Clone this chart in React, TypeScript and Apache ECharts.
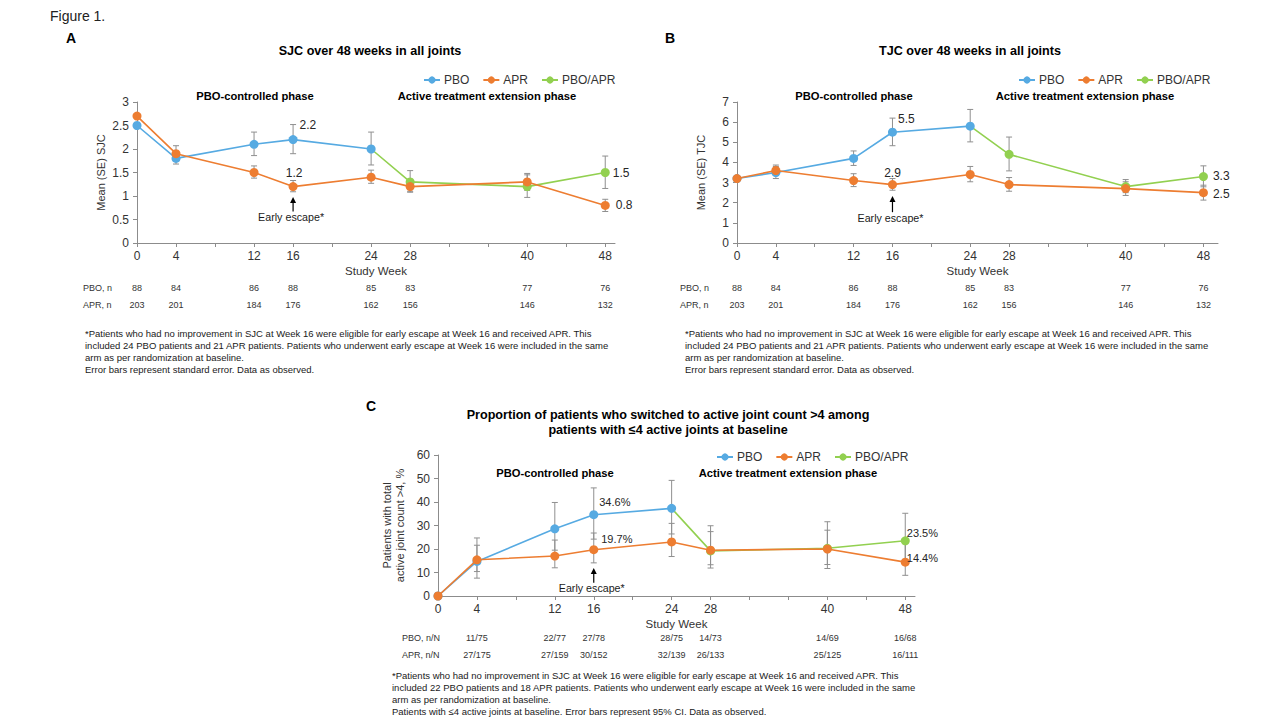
import React, { useEffect, useRef } from "react";
import * as echarts from "echarts";

const FONT = '"Liberation Sans", Arial, Helvetica, sans-serif';
const COL_PBO = "#56AAE2";
const COL_APR = "#ED7D31";
const COL_MIX = "#92D050";
const COL_ERR = "#8F8F8F";
const COL_AXIS = "#8C8C8C";
const COL_TEXT = "#333333";

// ---------- shared axis data ----------
const labelWeeks = [0, 4, 12, 16, 24, 28, 40, 48];
const tickWeeks = [0, 4, 8, 12, 16, 20, 24, 28, 32, 36, 40, 44, 48];
const pboWeeks = [0, 4, 12, 16, 24];
const aprWeeks = [0, 4, 12, 16, 24, 28, 40, 48];
const mixWeeks = [24, 28, 40, 48];

// ---------- Panel A: SJC ----------
const sjcPbo = [2.5, 1.8, 2.1, 2.2, 2.0];
const sjcPboLow = [2.5, 1.68, 1.86, 1.9, 1.66];
const sjcPboHigh = [2.5, 1.92, 2.36, 2.52, 2.36];
const sjcApr = [2.7, 1.9, 1.5, 1.2, 1.4, 1.2, 1.3, 0.8];
const sjcAprLow = [2.7, 1.75, 1.38, 1.09, 1.27, 1.08, 1.12, 0.67];
const sjcAprHigh = [2.7, 2.07, 1.64, 1.33, 1.55, 1.33, 1.48, 0.93];
const sjcMix = [2.0, 1.3, 1.2, 1.5];
const sjcMixLow = [2.0, 1.1, 0.97, 1.16];
const sjcMixHigh = [2.0, 1.54, 1.45, 1.85];

// ---------- Panel B: TJC ----------
const tjcPbo = [3.2, 3.5, 4.2, 5.5, 5.8];
const tjcPboLow = [3.2, 3.2, 3.85, 4.83, 5.02];
const tjcPboHigh = [3.2, 3.8, 4.57, 6.2, 6.63];
const tjcApr = [3.2, 3.6, 3.1, 2.9, 3.4, 2.9, 2.7, 2.5];
const tjcAprLow = [3.2, 3.35, 2.8, 2.62, 3.04, 2.57, 2.36, 2.13];
const tjcAprHigh = [3.2, 3.87, 3.44, 3.2, 3.8, 3.25, 3.04, 2.87];
const tjcMix = [5.8, 4.4, 2.8, 3.3];
const tjcMixLow = [5.8, 3.58, 2.5, 2.79];
const tjcMixHigh = [5.8, 5.26, 3.15, 3.83];

// ---------- Panel C: proportion ----------
const propPbo = [0, 14.7, 28.6, 34.6, 37.3];
const propPboLow = [0, 7.6, 19.5, 24.2, 26.4];
const propPboHigh = [0, 24.7, 39.8, 46.0, 49.2];
const propApr = [0, 15.4, 17.0, 19.7, 23.0, 19.5, 20.0, 14.4];
const propAprLow = [0, 10.4, 12.0, 14.1, 16.8, 13.3, 13.4, 8.8];
const propAprHigh = [0, 21.6, 23.8, 26.8, 30.9, 27.4, 28.0, 22.3];
const propMix = [37.3, 19.2, 20.3, 23.5];
const propMixLow = [37.3, 11.9, 11.7, 14.2];
const propMixHigh = [37.3, 29.9, 31.6, 35.2];

// ---------- n tables ----------
const nWeeksAB = [0, 4, 12, 16, 24, 28, 40, 48];
const pboN = ["88", "84", "86", "88", "85", "83", "77", "76"];
const aprN = ["203", "201", "184", "176", "162", "156", "146", "132"];
const nWeeksC = [4, 12, 16, 24, 28, 40, 48];
const pboNN = ["11/75", "22/77", "27/78", "28/75", "14/73", "14/69", "16/68"];
const aprNN = ["27/175", "27/159", "30/152", "32/139", "26/133", "25/125", "16/111"];

// ---------- texts ----------
const footAB = [
  "*Patients who had no improvement in SJC at Week 16 were eligible for early escape at Week 16 and received APR. This",
  "included 24 PBO patients and 21 APR patients. Patients who underwent early escape at Week 16 were included in the same",
  "arm as per randomization at baseline.",
  "Error bars represent standard error. Data as observed.",
];
const footC = [
  "*Patients who had no improvement in SJC at Week 16 were eligible for early escape at Week 16 and received APR. This",
  "included 22 PBO patients and 18 APR patients. Patients who underwent early escape at Week 16 were included in the same",
  "arm as per randomization at baseline.",
  "Patients with \u22644 active joints at baseline. Error bars represent 95% CI. Data as observed.",
];

type LabelSpec = { s: "pbo" | "apr" | "mix"; week: number; position: string; offset: [number, number] };

const panels = [
  {
    grid: { left: 137, top: 102, width: 478, height: 141 },
    xMax: 49, yMax: 3, yInterval: 0.5,
    yName: "Mean (SE) SJC", yNameGap: 30,
    pbo: [sjcPbo, sjcPboLow, sjcPboHigh], apr: [sjcApr, sjcAprLow, sjcAprHigh], mix: [sjcMix, sjcMixLow, sjcMixHigh],
    fmt: (v: number) => v.toFixed(1), labelSize: 12,
    labels: [
      { s: "pbo", week: 16, position: "right", offset: [-3, -15] },
      { s: "apr", week: 16, position: "top", offset: [1, 2] },
      { s: "mix", week: 48, position: "right", offset: [-2, 0] },
      { s: "apr", week: 48, position: "right", offset: [1, 0] },
    ] as LabelSpec[],
    letter: { t: "A", x: 66, y: 38 },
    title: { lines: ["SJC over 48 weeks in all joints"], x: 370, y: 51 },
    legend: { left: 418, top: 69 },
    phases: [{ x: 255, y: 96 }, { x: 487, y: 96 }],
    escape: { top: 0.98, bottom: 0.67, text: 0.55 },
    nTable: { labelX: 83, y1: 288, y2: 305, l1: "PBO, n", l2: "APR, n", weeks: nWeeksAB, r1: pboN, r2: aprN },
    foot: { x: 85, y: 333, lines: footAB },
  },
  {
    grid: { left: 737, top: 102, width: 481, height: 141 },
    xMax: 49.5, yMax: 7, yInterval: 1,
    yName: "Mean (SE) TJC", yNameGap: 30,
    pbo: [tjcPbo, tjcPboLow, tjcPboHigh], apr: [tjcApr, tjcAprLow, tjcAprHigh], mix: [tjcMix, tjcMixLow, tjcMixHigh],
    fmt: (v: number) => v.toFixed(1), labelSize: 12,
    labels: [
      { s: "pbo", week: 16, position: "right", offset: [-4, -13] },
      { s: "apr", week: 16, position: "top", offset: [0, 4] },
      { s: "mix", week: 48, position: "right", offset: [0, -1] },
      { s: "apr", week: 48, position: "right", offset: [0, 1] },
    ] as LabelSpec[],
    letter: { t: "B", x: 665, y: 38 },
    title: { lines: ["TJC over 48 weeks in all joints"], x: 970, y: 51 },
    legend: { left: 1013, top: 69 },
    phases: [{ x: 854, y: 96 }, { x: 1085, y: 96 }],
    escape: { top: 2.33, bottom: 1.53, text: 1.22 },
    nTable: { labelX: 680, y1: 288, y2: 305, l1: "PBO, n", l2: "APR, n", weeks: nWeeksAB, r1: pboN, r2: aprN },
    foot: { x: 685, y: 333, lines: footAB },
  },
  {
    grid: { left: 438, top: 455, width: 477, height: 141 },
    xMax: 49, yMax: 60, yInterval: 10,
    yName: "Patients with total\nactive joint count >4, %", yNameGap: 32,
    pbo: [propPbo, propPboLow, propPboHigh], apr: [propApr, propAprLow, propAprHigh], mix: [propMix, propMixLow, propMixHigh],
    fmt: (v: number) => v.toFixed(1) + "%", labelSize: 11,
    labels: [
      { s: "pbo", week: 16, position: "right", offset: [-4, -13] },
      { s: "apr", week: 16, position: "right", offset: [-2, -11] },
      { s: "mix", week: 48, position: "right", offset: [-8, -8] },
      { s: "apr", week: 48, position: "right", offset: [-8, -4] },
    ] as LabelSpec[],
    letter: { t: "C", x: 366, y: 406 },
    title: { lines: ["Proportion of patients who switched to active joint count >4 among", "patients with \u22644 active joints at baseline"], x: 668, y: 415 },
    legend: { left: 711, top: 446 },
    phases: [{ x: 555, y: 473 }, { x: 788, y: 473 }],
    escape: { top: 11.9, bottom: 5.6, text: 3.4 },
    nTable: { labelX: 402, y1: 638, y2: 655, l1: "PBO, n/N", l2: "APR, n/N", weeks: nWeeksC, r1: pboNN, r2: aprNN },
    foot: { x: 392, y: 675, lines: footC },
  },
];

function errSeries(i: number, weeks: number[], low: number[], high: number[]) {
  return {
    type: "custom",
    name: "err" + i,
    xAxisIndex: i,
    yAxisIndex: i,
    z: 1,
    silent: true,
    clip: false,
    encode: { x: 0, y: [1, 2] },
    data: weeks.map((w, k) => [w, low[k], high[k]]),
    renderItem: (_p: any, api: any) => {
      const x = api.value(0), lo = api.value(1), hi = api.value(2);
      if (lo === hi) return null;
      const a = api.coord([x, lo]);
      const b = api.coord([x, hi]);
      const cap = 3;
      const st = { stroke: COL_ERR, lineWidth: 1 };
      return {
        type: "group",
        children: [
          { type: "line", shape: { x1: a[0], y1: a[1], x2: b[0], y2: b[1] }, style: st },
          { type: "line", shape: { x1: a[0] - cap, y1: a[1], x2: a[0] + cap, y2: a[1] }, style: st },
          { type: "line", shape: { x1: b[0] - cap, y1: b[1], x2: b[0] + cap, y2: b[1] }, style: st },
        ],
      };
    },
  };
}

function lineSeries(i: number, p: any, key: "pbo" | "apr" | "mix", name: string, color: string, weeks: number[], vals: number[], z: number) {
  return {
    type: "line",
    name,
    xAxisIndex: i,
    yAxisIndex: i,
    z,
    silent: true,
    clip: false,
    symbol: "circle",
    symbolSize: 9,
    showSymbol: true,
    lineStyle: { color, width: 1.6 },
    itemStyle: { color },
    emphasis: { disabled: true },
    data: weeks.map((w, k) => {
      const item: any = { value: [w, vals[k]] };
      if (key === "mix" && k === 0) item.symbol = "none";
      const spec = (p.labels as LabelSpec[]).find((s) => s.s === key && s.week === w);
      if (spec) {
        item.label = {
          show: true,
          position: spec.position,
          offset: spec.offset,
          formatter: (q: any) => p.fmt(q.value[1]),
          fontSize: p.labelSize,
          fontFamily: FONT,
          color: "#262626",
        };
      }
      return item;
    }),
  };
}

function buildOption() {
  const grid: any[] = [];
  const xAxis: any[] = [];
  const yAxis: any[] = [];
  const series: any[] = [];
  const legend: any[] = [];
  panels.forEach((p, i) => {
    grid.push({ ...p.grid, containLabel: false, outerBoundsMode: "none" });
    xAxis.push({
      type: "value", gridIndex: i, min: 0, max: p.xMax,
      axisLine: { show: true, lineStyle: { color: COL_AXIS, width: 1 } },
      axisTick: { show: true, length: 4, customValues: tickWeeks, lineStyle: { color: COL_AXIS } },
      axisLabel: { customValues: labelWeeks, color: COL_TEXT, fontSize: 12, margin: 7, fontFamily: FONT },
      splitLine: { show: false },
      name: "Study Week", nameLocation: "middle", nameGap: 22,
      nameTextStyle: { color: COL_TEXT, fontSize: 11.5, fontFamily: FONT },
    });
    yAxis.push({
      type: "value", gridIndex: i, min: 0, max: p.yMax, interval: p.yInterval,
      axisLine: { show: true, lineStyle: { color: COL_AXIS, width: 1 } },
      axisTick: { show: true, length: 4, lineStyle: { color: COL_AXIS } },
      axisLabel: { color: COL_TEXT, fontSize: 12, margin: 8, fontFamily: FONT },
      splitLine: { show: false },
      name: p.yName, nameLocation: "middle", nameGap: p.yNameGap, nameRotate: 90,
      nameTextStyle: { color: COL_TEXT, fontSize: 11, fontFamily: FONT, lineHeight: 13 },
    });
    series.push(errSeries(i, mixWeeks, p.mix[1], p.mix[2]));
    series.push(errSeries(i, pboWeeks, p.pbo[1], p.pbo[2]));
    series.push(errSeries(i, aprWeeks, p.apr[1], p.apr[2]));
    series.push(lineSeries(i, p, "mix", "PBO/APR", COL_MIX, mixWeeks, p.mix[0], 2));
    series.push(lineSeries(i, p, "pbo", "PBO", COL_PBO, pboWeeks, p.pbo[0], 3));
    series.push(lineSeries(i, p, "apr", "APR", COL_APR, aprWeeks, p.apr[0], 4));
    legend.push({
      left: p.legend.left, top: p.legend.top, orient: "horizontal",
      data: ["PBO", "APR", "PBO/APR"], selectedMode: false,
      itemWidth: 16, itemHeight: 9, itemGap: 13,
      textStyle: { color: COL_TEXT, fontSize: 12, fontFamily: FONT, padding: [0, 0, 0, -1] },
    });
  });
  return {
    animation: false,
    backgroundColor: "#ffffff",
    textStyle: { fontFamily: FONT },
    grid, xAxis, yAxis, series, legend,
  };
}

function buildGraphic(chart: any) {
  const els: any[] = [];
  const text = (t: string, x: number, y: number, size: number, opts: any = {}) => {
    els.push({
      type: "text", x, y, silent: true, z: 10,
      style: {
        text: t, fontSize: size, fontFamily: FONT, fontWeight: opts.bold ? "bold" : "normal",
        fill: opts.fill || "#1a1a1a", textAlign: opts.align || "left", textVerticalAlign: "middle",
      },
    });
  };
  text("Figure 1.", 50, 16, 14, { fill: "#222" });
  panels.forEach((p, i) => {
    text(p.letter.t, p.letter.x, p.letter.y, 14, { bold: true, fill: "#000" });
    p.title.lines.forEach((l, k) => text(l, p.title.x, p.title.y + k * 15, 12.6, { bold: true, align: "center", fill: "#000" }));
    text("PBO-controlled phase", p.phases[0].x, p.phases[0].y, 11.2, { bold: true, align: "center", fill: "#000" });
    text("Active treatment extension phase", p.phases[1].x, p.phases[1].y, 11.2, { bold: true, align: "center", fill: "#000" });
    // early escape arrow
    const top = chart.convertToPixel({ gridIndex: i }, [16, p.escape.top]);
    const bot = chart.convertToPixel({ gridIndex: i }, [16, p.escape.bottom]);
    const tp = chart.convertToPixel({ gridIndex: i }, [16, p.escape.text]);
    els.push({ type: "line", silent: true, z: 10, shape: { x1: bot[0], y1: bot[1], x2: top[0], y2: top[1] + 4 }, style: { stroke: "#000", lineWidth: 1.2 } });
    els.push({ type: "polygon", silent: true, z: 10, shape: { points: [[top[0], top[1]], [top[0] - 3, top[1] + 6], [top[0] + 3, top[1] + 6]] }, style: { fill: "#000" } });
    text("Early escape*", tp[0] - 2, tp[1], 10.7, { align: "center", fill: "#1a1a1a" });
    // n table
    const nt = p.nTable;
    text(nt.l1, nt.labelX, nt.y1, 9, { fill: "#333" });
    text(nt.l2, nt.labelX, nt.y2, 9, { fill: "#333" });
    nt.weeks.forEach((w, k) => {
      const x = chart.convertToPixel({ xAxisIndex: i }, w);
      text(nt.r1[k], x, nt.y1, 9, { align: "center", fill: "#333" });
      text(nt.r2[k], x, nt.y2, 9, { align: "center", fill: "#333" });
    });
    // footnotes
    p.foot.lines.forEach((l, k) => text(l, p.foot.x, p.foot.y + k * 12, 9.5, { fill: "#1a1a1a" }));
  });
  return els;
}

export default function App() {
  const ref = useRef<HTMLDivElement>(null);
  useEffect(() => {
    const chart = echarts.init(ref.current!, undefined, { renderer: "svg" });
    chart.setOption(buildOption() as any);
    chart.setOption({ graphic: buildGraphic(chart) } as any);
    return () => chart.dispose();
  }, []);
  return (
    <div
      ref={ref}
      style={{ position: "fixed", left: 0, top: 0, width: 1280, height: 720, background: "#fff" }}
    />
  );
}
